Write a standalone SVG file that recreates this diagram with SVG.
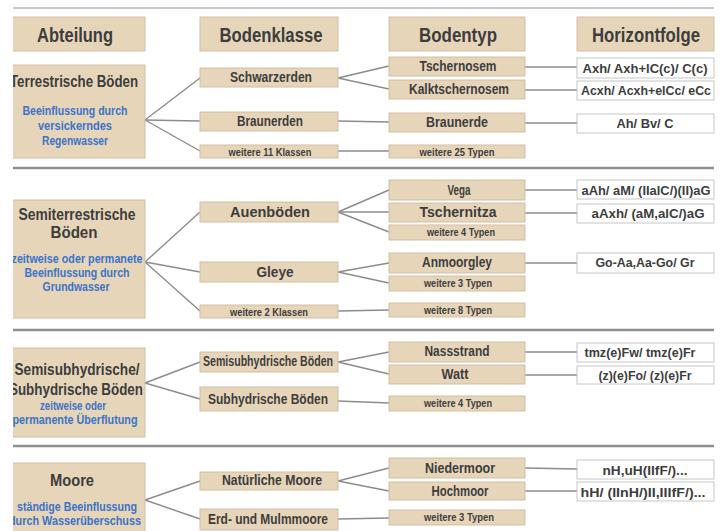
<svg xmlns="http://www.w3.org/2000/svg" width="724" height="531" viewBox="0 0 724 531">
<defs>
<clipPath id="clip"><rect x="13" y="0" width="711" height="531"/></clipPath>
<style>
.box{fill:#e7d5ba;stroke:#cfbfa6;stroke-width:1}
.hbox{fill:#ffffff;stroke:#c6c6c6;stroke-width:1}
text{font-family:"Liberation Sans","Open Sans",sans-serif;font-weight:bold;text-anchor:middle;fill:#3d3d3d}
.h{font-size:21px}
.a{font-size:16px}
.k{font-size:14px}
.s{font-size:10px}
.bl{font-size:12px;fill:#3b73c6}
.hz{font-size:13.5px}
.div{stroke:#8f8f8f;stroke-width:2.5}
.con line{stroke:#8c8c8c;stroke-width:1.4}
</style>
</defs>
<rect width="724" height="531" fill="#ffffff"/>
<g clip-path="url(#clip)">
<g id="dividers">
<line x1="13" y1="8" x2="714" y2="8" stroke="#b4b4b4" stroke-width="1.5"/>
<line class="div" x1="13" y1="168" x2="714" y2="168"/>
<line class="div" x1="13" y1="330" x2="714" y2="330"/>
<line class="div" x1="13" y1="446" x2="714" y2="446"/>
</g>
<g id="connectors" class="con">
<line x1="145" y1="120" x2="200" y2="78"/>
<line x1="145" y1="120" x2="200" y2="121"/>
<line x1="145" y1="120" x2="200" y2="151"/>
<line x1="338" y1="78" x2="389" y2="66"/>
<line x1="338" y1="78" x2="389" y2="89"/>
<line x1="338" y1="121" x2="389" y2="122"/>
<line x1="338" y1="151" x2="389" y2="151"/>
<line x1="525" y1="67" x2="577" y2="67"/>
<line x1="525" y1="90" x2="577" y2="90"/>
<line x1="525" y1="123" x2="577" y2="123"/>
<line x1="145" y1="262" x2="200" y2="212"/>
<line x1="145" y1="262" x2="200" y2="272"/>
<line x1="145" y1="262" x2="200" y2="311"/>
<line x1="338" y1="212" x2="389" y2="190"/>
<line x1="338" y1="212" x2="389" y2="212"/>
<line x1="338" y1="212" x2="389" y2="232"/>
<line x1="338" y1="272" x2="389" y2="263"/>
<line x1="338" y1="272" x2="389" y2="283"/>
<line x1="338" y1="311" x2="389" y2="310"/>
<line x1="525" y1="190" x2="577" y2="190"/>
<line x1="525" y1="213" x2="577" y2="213"/>
<line x1="525" y1="263" x2="577" y2="263"/>
<line x1="145" y1="383" x2="200" y2="362"/>
<line x1="145" y1="383" x2="200" y2="399"/>
<line x1="338" y1="362" x2="389" y2="352"/>
<line x1="338" y1="362" x2="389" y2="374"/>
<line x1="338" y1="401" x2="389" y2="403"/>
<line x1="525" y1="352" x2="577" y2="352"/>
<line x1="525" y1="375" x2="577" y2="375"/>
<line x1="145" y1="500" x2="200" y2="481"/>
<line x1="145" y1="500" x2="200" y2="519"/>
<line x1="338" y1="481" x2="389" y2="468"/>
<line x1="338" y1="481" x2="389" y2="491"/>
<line x1="338" y1="519" x2="389" y2="518"/>
<line x1="525" y1="468" x2="577" y2="469"/>
<line x1="525" y1="491" x2="577" y2="491"/>
</g>
<g id="hdr-abteilung"><rect class="box" x="5" y="17" width="140" height="34"/><text class="h" x="75" y="42" textLength="76" lengthAdjust="spacingAndGlyphs">Abteilung</text></g>
<g id="hdr-bodenklasse"><rect class="box" x="200" y="17" width="138" height="34"/><text class="h" x="271" y="42" textLength="103" lengthAdjust="spacingAndGlyphs">Bodenklasse</text></g>
<g id="hdr-bodentyp"><rect class="box" x="389" y="17" width="136" height="34"/><text class="h" x="458" y="42" textLength="78" lengthAdjust="spacingAndGlyphs">Bodentyp</text></g>
<g id="hdr-horizontfolge"><rect class="box" x="577" y="17" width="137" height="34"/><text class="h" x="646" y="42" textLength="108" lengthAdjust="spacingAndGlyphs">Horizontfolge</text></g>

<g id="terrestrische"><rect class="box" x="5" y="65" width="140" height="93"/>
<text class="a" x="74" y="87" textLength="128" lengthAdjust="spacingAndGlyphs">Terrestrische Böden</text>
<text class="bl" x="75" y="115" textLength="105" lengthAdjust="spacingAndGlyphs">Beeinflussung durch</text>
<text class="bl" x="75" y="130" textLength="74" lengthAdjust="spacingAndGlyphs">versickerndes</text>
<text class="bl" x="75" y="145" textLength="66" lengthAdjust="spacingAndGlyphs">Regenwasser</text></g>
<g id="schwarzerden"><rect class="box" x="200" y="68" width="138" height="19"/><text class="k" x="271" y="82" textLength="82" lengthAdjust="spacingAndGlyphs">Schwarzerden</text></g>
<g id="braunerden"><rect class="box" x="200" y="112" width="138" height="19"/><text class="k" x="270" y="126" textLength="66" lengthAdjust="spacingAndGlyphs">Braunerden</text></g>
<g id="weitere11"><rect class="box" x="200" y="145" width="138" height="13"/><text class="s" x="270" y="155.5" textLength="83" lengthAdjust="spacingAndGlyphs">weitere 11 Klassen</text></g>
<g id="tschernosem"><rect class="box" x="389" y="57" width="136" height="19"/><text class="k" x="458" y="71" textLength="77" lengthAdjust="spacingAndGlyphs">Tschernosem</text></g>
<g id="kalktschernosem"><rect class="box" x="389" y="80" width="136" height="19"/><text class="k" x="459" y="94" textLength="100" lengthAdjust="spacingAndGlyphs">Kalktschernosem</text></g>
<g id="braunerde"><rect class="box" x="389" y="113" width="136" height="19"/><text class="k" x="457" y="127" textLength="62" lengthAdjust="spacingAndGlyphs">Braunerde</text></g>
<g id="weitere25"><rect class="box" x="389" y="145" width="136" height="13"/><text class="s" x="457" y="155.5" textLength="75" lengthAdjust="spacingAndGlyphs">weitere 25 Typen</text></g>
<g id="hz-tschernosem"><rect class="hbox" x="577" y="58" width="137" height="20"/><text class="hz" x="645" y="73" textLength="125" lengthAdjust="spacingAndGlyphs">Axh/ Axh+lC(c)/ C(c)</text></g>
<g id="hz-kalktschernosem"><rect class="hbox" x="577" y="81" width="137" height="19"/><text class="hz" x="646" y="95" textLength="130" lengthAdjust="spacingAndGlyphs">Acxh/ Acxh+elCc/ eCc</text></g>
<g id="hz-braunerde"><rect class="hbox" x="577" y="114" width="137" height="19"/><text class="hz" x="645" y="128" textLength="57" lengthAdjust="spacingAndGlyphs">Ah/ Bv/ C</text></g>

<g id="semiterrestrische"><rect class="box" x="5" y="200" width="140" height="118"/>
<text class="a" x="77" y="220" textLength="117" lengthAdjust="spacingAndGlyphs">Semiterrestrische</text>
<text class="a" x="74" y="238" textLength="47" lengthAdjust="spacingAndGlyphs">Böden</text>
<text class="bl" x="77" y="263" textLength="131" lengthAdjust="spacingAndGlyphs">zeitweise oder permanete</text>
<text class="bl" x="77" y="277" textLength="105" lengthAdjust="spacingAndGlyphs">Beeinflussung durch</text>
<text class="bl" x="76" y="291" textLength="67" lengthAdjust="spacingAndGlyphs">Grundwasser</text></g>
<g id="auenboeden"><rect class="box" x="200" y="202" width="138" height="20"/><text class="k" x="270" y="217" textLength="80" lengthAdjust="spacingAndGlyphs">Auenböden</text></g>
<g id="gleye"><rect class="box" x="200" y="262" width="138" height="20"/><text class="k" x="275" y="277" textLength="37" lengthAdjust="spacingAndGlyphs">Gleye</text></g>
<g id="weitere2"><rect class="box" x="200" y="305" width="138" height="13"/><text class="s" x="269" y="315.5" textLength="78" lengthAdjust="spacingAndGlyphs">weitere 2 Klassen</text></g>
<g id="vega"><rect class="box" x="389" y="180" width="136" height="20"/><text class="k" x="459" y="195" textLength="23" lengthAdjust="spacingAndGlyphs">Vega</text></g>
<g id="tschernitza"><rect class="box" x="389" y="203" width="136" height="19"/><text class="k" x="458" y="217" textLength="77" lengthAdjust="spacingAndGlyphs">Tschernitza</text></g>
<g id="weitere4a"><rect class="box" x="389" y="225" width="136" height="15"/><text class="s" x="461" y="236" textLength="68" lengthAdjust="spacingAndGlyphs">weitere 4 Typen</text></g>
<g id="anmoorgley"><rect class="box" x="389" y="253" width="136" height="20"/><text class="k" x="457" y="267" textLength="70" lengthAdjust="spacingAndGlyphs">Anmoorgley</text></g>
<g id="weitere3a"><rect class="box" x="389" y="276" width="136" height="15"/><text class="s" x="458" y="287" textLength="68" lengthAdjust="spacingAndGlyphs">weitere 3 Typen</text></g>
<g id="weitere8"><rect class="box" x="389" y="303" width="136" height="14"/><text class="s" x="458" y="313.5" textLength="68" lengthAdjust="spacingAndGlyphs">weitere 8 Typen</text></g>
<g id="hz-vega"><rect class="hbox" x="577" y="180" width="137" height="19"/><text class="hz" x="646" y="195" textLength="129" lengthAdjust="spacingAndGlyphs">aAh/ aM/ (IIalC/)(II)aG</text></g>
<g id="hz-tschernitza"><rect class="hbox" x="577" y="204" width="137" height="19"/><text class="hz" x="648" y="218" textLength="113" lengthAdjust="spacingAndGlyphs">aAxh/ (aM,alC/)aG</text></g>
<g id="hz-anmoorgley"><rect class="hbox" x="577" y="253" width="137" height="20"/><text class="hz" x="645" y="267" textLength="99" lengthAdjust="spacingAndGlyphs">Go-Aa,Aa-Go/ Gr</text></g>

<g id="semisubhydrische"><rect class="box" x="5" y="348" width="140" height="89"/>
<text class="a" x="77" y="375" font-size="16.5" textLength="125" lengthAdjust="spacingAndGlyphs">Semisubhydrische/</text>
<text class="a" x="76" y="395" font-size="16.5" textLength="134" lengthAdjust="spacingAndGlyphs">Subhydrische Böden</text>
<text class="bl" x="73" y="410" textLength="66" lengthAdjust="spacingAndGlyphs">zeitweise oder</text>
<text class="bl" x="75" y="424" textLength="125" lengthAdjust="spacingAndGlyphs">permanente Überflutung</text></g>
<g id="semisub-boeden"><rect class="box" x="200" y="352" width="138" height="20"/><text class="k" x="268" y="366" font-size="12.5" textLength="130" lengthAdjust="spacingAndGlyphs">Semisubhydrische Böden</text></g>
<g id="subhydr-boeden"><rect class="box" x="200" y="387" width="138" height="24"/><text class="k" x="268" y="404" textLength="120" lengthAdjust="spacingAndGlyphs">Subhydrische Böden</text></g>
<g id="nassstrand"><rect class="box" x="389" y="342" width="136" height="20"/><text class="k" x="457" y="356" textLength="65" lengthAdjust="spacingAndGlyphs">Nassstrand</text></g>
<g id="watt"><rect class="box" x="389" y="365" width="136" height="19"/><text class="k" x="455" y="379" textLength="27" lengthAdjust="spacingAndGlyphs">Watt</text></g>
<g id="weitere4b"><rect class="box" x="389" y="396" width="136" height="15"/><text class="s" x="458" y="406.5" textLength="68" lengthAdjust="spacingAndGlyphs">weitere 4 Typen</text></g>
<g id="hz-nassstrand"><rect class="hbox" x="577" y="343" width="137" height="19"/><text class="hz" x="640" y="357" textLength="111" lengthAdjust="spacingAndGlyphs">tmz(e)Fw/ tmz(e)Fr</text></g>
<g id="hz-watt"><rect class="hbox" x="577" y="366" width="137" height="18"/><text class="hz" x="645" y="380" textLength="93" lengthAdjust="spacingAndGlyphs">(z)(e)Fo/ (z)(e)Fr</text></g>

<g id="moore"><rect class="box" x="5" y="463" width="140" height="80"/>
<text class="a" x="72" y="486" font-size="16.5" textLength="44" lengthAdjust="spacingAndGlyphs">Moore</text>
<text class="bl" x="77" y="511" textLength="120" lengthAdjust="spacingAndGlyphs">ständige Beeinflussung</text>
<text class="bl" x="75" y="525" textLength="132" lengthAdjust="spacingAndGlyphs">durch Wasserüberschuss</text></g>
<g id="natuerliche-moore"><rect class="box" x="200" y="472" width="138" height="18"/><text class="k" x="272" y="485" textLength="100" lengthAdjust="spacingAndGlyphs">Natürliche Moore</text></g>
<g id="erd-mulmmoore"><rect class="box" x="200" y="509" width="138" height="21"/><text class="k" x="268" y="524" textLength="120" lengthAdjust="spacingAndGlyphs">Erd- und Mulmmoore</text></g>
<g id="niedermoor"><rect class="box" x="389" y="458" width="136" height="20"/><text class="k" x="460" y="473" textLength="70" lengthAdjust="spacingAndGlyphs">Niedermoor</text></g>
<g id="hochmoor"><rect class="box" x="389" y="482" width="136" height="18"/><text class="k" x="460" y="496" textLength="57" lengthAdjust="spacingAndGlyphs">Hochmoor</text></g>
<g id="weitere3b"><rect class="box" x="389" y="510" width="136" height="15"/><text class="s" x="459" y="521" textLength="70" lengthAdjust="spacingAndGlyphs">weitere 3 Typen</text></g>
<g id="hz-niedermoor"><rect class="hbox" x="577" y="460" width="137" height="19"/><text class="hz" x="645" y="475" textLength="85" lengthAdjust="spacingAndGlyphs">nH,uH(IIfF/)...</text></g>
<g id="hz-hochmoor"><rect class="hbox" x="577" y="482" width="137" height="19"/><text class="hz" x="643" y="497" textLength="125" lengthAdjust="spacingAndGlyphs">hH/ (IInH/)II,IIIfF/)...</text></g>
</g>
</svg>
